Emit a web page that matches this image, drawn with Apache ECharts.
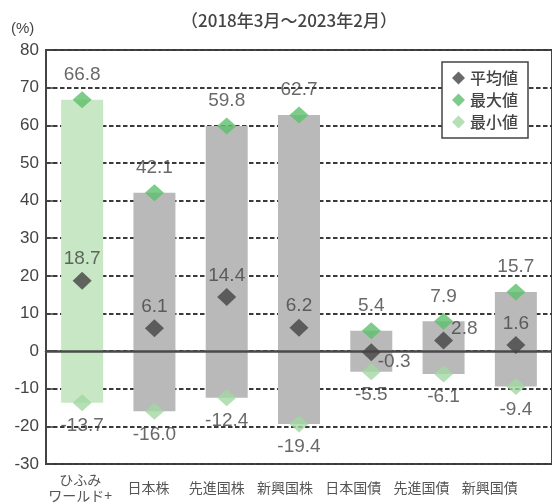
<!DOCTYPE html>
<html><head><meta charset="utf-8">
<script src="https://cdn.jsdelivr.net/npm/echarts@6/dist/echarts.min.js"></script>
<style>html,body{margin:0;padding:0;background:#fff}#c{width:552px;height:504px}</style>
</head><body><div id="c"></div>
<script>
const categories = ['ひふみ\nワールド+','日本株','先進国株','新興国株','日本国債','先進国債','新興国債'];
const avgValues = [18.7, 6.1, 14.4, 6.2, -0.3, 2.8, 1.6];
const maxValues = [66.8, 42.1, 59.8, 62.7, 5.4, 7.9, 15.7];
const minValues = [-13.7, -16.0, -12.4, -19.4, -5.5, -6.1, -9.4];
const yMin = -30, yMax = 80, yStep = 10;
const seriesNames = ['平均値','最大値','最小値'];
const subtitle = '（2018年3月～2023年2月）';
const unitLabel = '(%)';

const numFont = 'Liberation Sans';
const jpFont = 'Noto Sans CJK JP';
const txt = '#444';

const barColor = p => p.dataIndex === 0 ? '#c8e7c4' : '#b9b9b9';

const avgLabelCfg = [
  {position:'top', distance:3},
  {position:'top', distance:3},
  {position:'top', distance:3},
  {position:'top', distance:3},
  {position:'right', distance:-3, offset:[0,10]},
  {position:'right', distance:-2, offset:[0,-12]},
  {position:'top', distance:3}
];

const chart = echarts.init(document.getElementById('c'));
chart.setOption({
  animation:false,
  title:{text:subtitle, left:181, top:12, padding:0, textStyle:{fontFamily:jpFont, fontSize:17, fontWeight:500, color:txt}},
  graphic:[{type:'text', left:11, top:21, style:{text:unitLabel, font:'15px "Liberation Sans"', fill:txt}}],
  legend:{
    data:seriesNames, orient:'vertical', left:442, top:62, width:104,
    backgroundColor:'#fff', borderColor:'#444', borderWidth:1.5, padding:[8,10,8,10],
    itemGap:6, itemWidth:13, itemHeight:13, icon:'diamond',
    textStyle:{fontFamily:jpFont, fontSize:16, fontWeight:500, color:txt}
  },
  grid:[
    {left:46, right:-6, top:50, bottom:40, show:true, borderColor:'#444', borderWidth:2, backgroundColor:'transparent'},
    {left:46, right:28, top:50, bottom:40, show:false}
  ],
  xAxis:[
    {type:'category', data:categories, gridIndex:0, boundaryGap:true,
     axisLine:{onZero:true, lineStyle:{color:'#4a4a4a', width:2.5}},
     axisTick:{inside:true, length:5, lineStyle:{color:'#444', width:1.5}},
     axisLabel:{show:false}, splitLine:{show:false}, z:5},
    {type:'category', data:categories, gridIndex:1, position:'bottom',
     axisLine:{show:false}, axisTick:{show:false},
     axisLabel:{fontFamily:jpFont, fontSize:14, color:'#555', margin:24, verticalAlign:'middle', lineHeight:16, interval:0}}
  ],
  yAxis:[
    {type:'value', gridIndex:0, min:yMin, max:yMax, interval:yStep,
     axisLine:{show:true, lineStyle:{color:'#444', width:2}},
     axisTick:{show:true, inside:true, length:7, lineStyle:{color:'#444', width:1.5}},
     axisLabel:{fontFamily:numFont, fontSize:17, color:txt, margin:7},
     splitLine:{show:true, lineStyle:{color:'#3a3a3a', width:1.8, type:[4.5,2.5]}}},
    {type:'value', gridIndex:1, min:yMin, max:yMax, show:false}
  ],
  series:[
    {type:'bar', name:'rangeMax', data:maxValues, barWidth:42, barGap:'-100%', silent:true,
     itemStyle:{color:barColor}, z:2},
    {type:'bar', name:'rangeMin', data:minValues, barWidth:42, barGap:'-100%', silent:true,
     itemStyle:{color:barColor}, z:2},
    {type:'scatter', name:seriesNames[0], symbol:'diamond', symbolSize:[19,18], z:6,
     itemStyle:{color:'#444'},
     data:avgValues.map((v,i)=>({value:v, label:avgLabelCfg[i]})),
     label:{show:true, formatter:p=>p.value.toFixed(1), fontFamily:numFont, fontSize:19, color:txt}},
    {type:'scatter', name:seriesNames[1], symbol:'diamond', symbolSize:[19,17], z:6,
     itemStyle:{color:'#5cbf6b'}, data:maxValues,
     label:{show:true, position:'top', distance:7, formatter:p=>p.value.toFixed(1), fontFamily:numFont, fontSize:19, color:txt}},
    {type:'scatter', name:seriesNames[2], symbol:'diamond', symbolSize:[19,17], z:6,
     itemStyle:{color:'#a3d7a2'}, data:minValues,
     label:{show:true, position:'bottom', distance:5, formatter:p=>p.value.toFixed(1), fontFamily:numFont, fontSize:19, color:txt}}
  ]
});
</script></body></html>
